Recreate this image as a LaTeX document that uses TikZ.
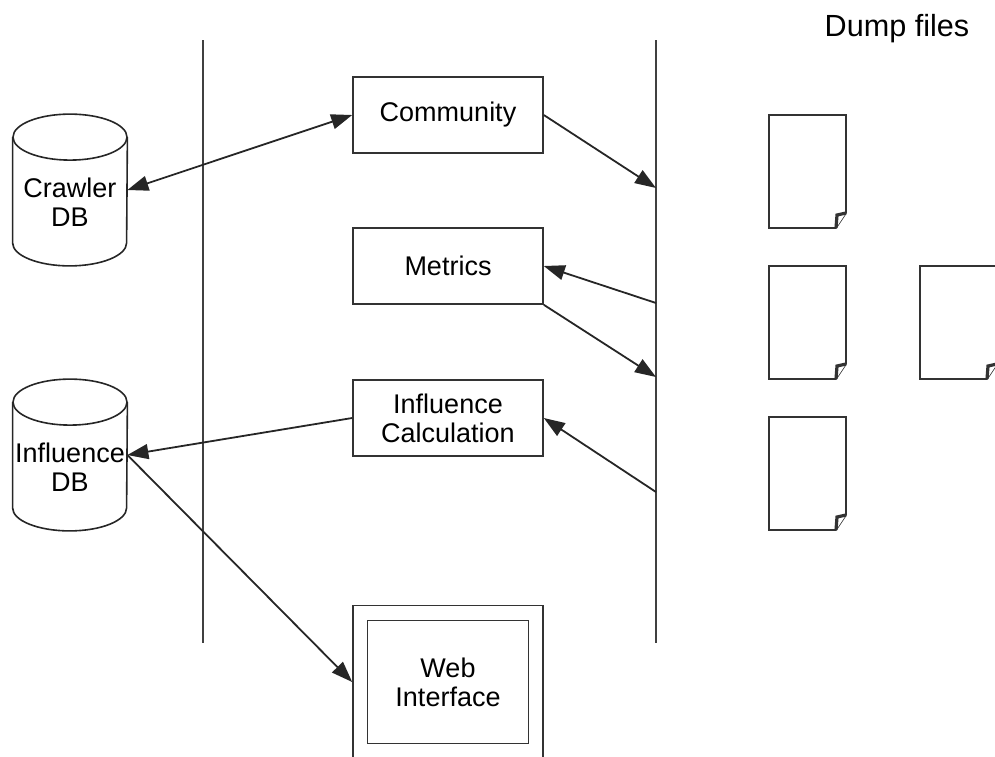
\documentclass[tikz,border=0pt]{standalone}
\usepackage{fontspec}
\setmainfont{Liberation Sans}
\usetikzlibrary{arrows.meta}

\begin{document}
\begin{tikzpicture}[
  x=0.5pt,y=-0.5pt,
  every node/.style={font=\fontsize{13.5}{14.5}\selectfont},
  block/.style={rectangle,draw=black!80,fill=white,minimum width=95pt,minimum height=38pt,inner sep=0pt,line width=0.8pt,align=center},
  dbase/.style={rectangle,minimum width=57pt,minimum height=75.5pt,inner sep=0pt},
  dbtext/.style={align=center,yshift=-6pt},
  cyl/.style={draw=black!85,line width=0.8pt},
  link/.style={black!85,line width=0.9pt,-{Triangle[length=10.5pt,width=7.5pt]}},
  bar/.style={black!75,line width=1pt},
  paper/.style={draw=black!80,fill=white,line width=0.8pt,line join=miter}
]
\useasboundingbox (0,0) rectangle (995,756);

% two lanes
\draw[bar] (203,40) -- (203,643);
\draw[bar] (656,40) -- (656,643);

% databases
\node[dbase,label={[dbtext,name=crawlertxt]center:Crawler\\DB}] (crawler) at (70,190) {};
\node[dbase,label={[dbtext,name=infdbtxt]center:Influence\\DB}] (infdb) at (70,455) {};
\foreach \db in {crawler,infdb}{
  \draw[cyl] ([yshift=-11.5pt]\db.north west) -- ([yshift=11.5pt]\db.south west)
    arc[start angle=180,end angle=360,x radius=28.5pt,y radius=11.5pt]
    -- ([yshift=-11.5pt]\db.north east);
  \draw[cyl] ([yshift=-11.5pt]\db.north) ellipse[x radius=28.5pt,y radius=11.5pt];
}

% processing steps
\node[block] (community) at (448,115) {Community};
\node[block] (metrics) at (448,266) {Metrics};
\node[block] (calc) at (448,418) {Influence\\Calculation};
\node[block,minimum width=95pt,minimum height=76.5pt] (web) at (448,682) {};
\node[block,minimum width=80.5pt,minimum height=61.5pt] (webin) at (web.center) {Web\\Interface};

% dump side
\node[font=\fontsize{15.3}{18}\selectfont] (dump) at (897,29) {Dump files};
\coordinate (d1) at (656,188);
\coordinate (d2) at (656,303);
\coordinate (d3) at (656,377);
\coordinate (d4) at (656,492);

\foreach \dx/\dy in {769/115,769/266,769/417,920/266}{
  \draw[paper] (\dx,\dy) -- ++(77,0) -- ++(0,98) -- ++(-10,15) -- ++(-67,0) -- cycle;
  \draw[paper,line width=1.6pt] (\dx+77,\dy+98) -- ++(-9,2) -- ++(-1,13);
}

% data flow
\draw[link,{Triangle[length=10.5pt,width=7.5pt]}-{Triangle[length=10.5pt,width=7.5pt]}] (community.west) -- (crawler.east);
\draw[link] (community.east) -- (d1);
\draw[link] (d2) -- (metrics.east);
\draw[link] (metrics.south east) -- (d3);
\draw[link] (d4) -- (calc.east);
\draw[link] (calc.west) -- (infdb.east);
\draw[link] (infdb.east) -- (web.west);

\end{tikzpicture}
\end{document}
